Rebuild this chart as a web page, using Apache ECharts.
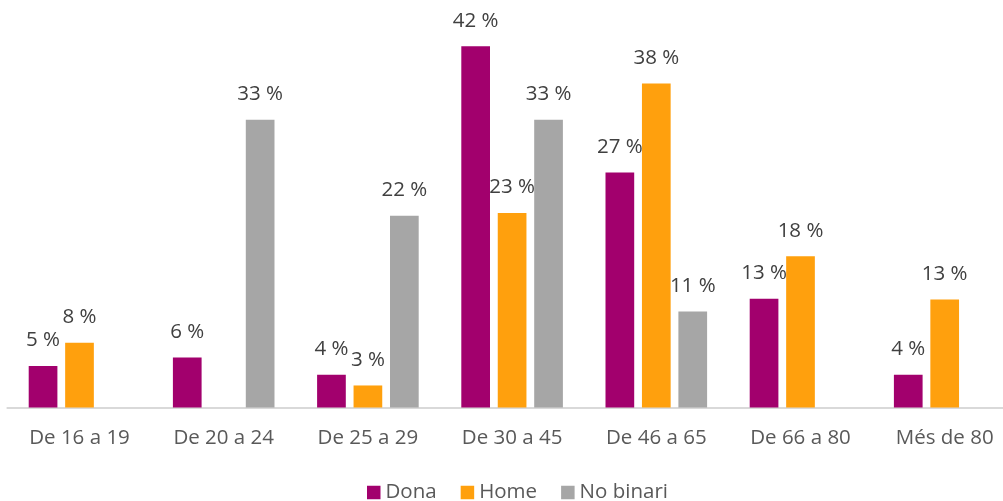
<!DOCTYPE html>
<html>
<head>
<meta charset="utf-8">
<script src="https://cdn.jsdelivr.net/npm/echarts@6/dist/echarts.min.js"></script>
<style>
html,body{margin:0;padding:0;background:#fff;overflow:hidden;width:1003px;height:501px;}
#chart{width:1020px;height:501px;}
</style>
</head>
<body>
<div id="chart"></div>
<script>
const categories = ['De 16 a 19', 'De 20 a 24', 'De 25 a 29', 'De 30 a 45', 'De 46 a 65', 'De 66 a 80', 'Més de 80'];
const dona = [4.8, 5.8, 3.8, 41.8, 27.2, 12.6, 3.8];
const home = [7.5, null, 2.55, 22.5, 37.5, 17.5, 12.5];
const noBinari = [null, 33.3, 22.2, 33.3, 11.1, null, null];
const seriesNames = ['Dona', 'Home', 'No binari'];
const colors = ['#A2006D', '#FFA00D', '#A6A6A6'];

const FONT = '"Open Sans", "Noto Sans", sans-serif';
const chart = echarts.init(document.getElementById('chart'), null, {renderer: 'canvas'});

function mkSeries(name, data, color) {
  return {
    name: name,
    type: 'bar',
    data: data,
    barWidth: 28.7,
    barGap: '27%',
    itemStyle: {color: color},
    label: {
      show: true,
      position: 'top',
      distance: 15,
      color: '#404040',
      fontFamily: FONT,
      fontSize: 20.5,
      formatter: p => (p.value == null ? '' : Math.round(p.value) + ' %')
    }
  };
}

chart.setOption({
  animation: false,
  color: colors,
  grid: {left: 7.4, top: 18.7, width: 1009.4, height: 388.8, containLabel: false},
  xAxis: {
    type: 'category',
    data: categories,
    axisLine: {lineStyle: {color: '#D9D9D9', width: 2}},
    axisTick: {show: false},
    axisLabel: {color: '#595959', fontFamily: FONT, fontSize: 20.5, margin: 20}
  },
  yAxis: {
    type: 'value',
    min: 0,
    max: 45,
    show: false,
    splitLine: {show: false}
  },
  legend: {
    data: seriesNames,
    left: 367,
    top: 482,
    padding: 0,
    itemWidth: 13.5,
    itemHeight: 13.5,
    itemGap: 24,
    icon: 'rect',
    textStyle: {color: '#595959', fontFamily: FONT, fontSize: 20.5}
  },
  series: [
    mkSeries(seriesNames[0], dona, colors[0]),
    mkSeries(seriesNames[1], home, colors[1]),
    mkSeries(seriesNames[2], noBinari, colors[2])
  ]
});
</script>
</body>
</html>
